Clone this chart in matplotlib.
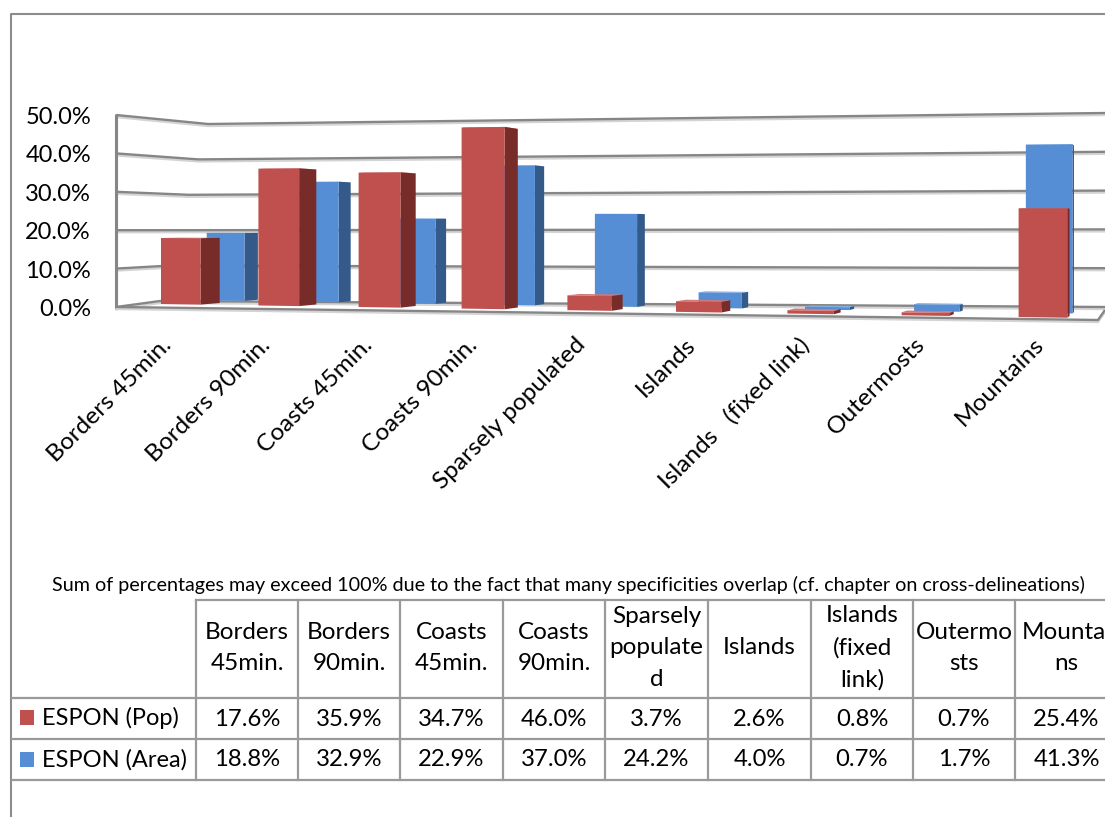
import matplotlib
matplotlib.use("Agg")
import matplotlib.pyplot as plt
from matplotlib.patches import Polygon, Rectangle

# data
categories = ["Borders 45min.", "Borders 90min.", "Coasts 45min.", "Coasts 90min.",
              "Sparsely populated", "Islands", "Islands   (fixed link)", "Outermosts", "Mountains"]
table_headers = ["Borders\n45min.", "Borders\n90min.", "Coasts\n45min.", "Coasts\n90min.",
                 "Sparsely\npopulate\nd", "Islands", "Islands\n(fixed\nlink)", "Outermo\nsts", "Mountai\nns"]
pop_values = [17.6, 35.9, 34.7, 46.0, 3.7, 2.6, 0.8, 0.7, 25.4]
area_values = [18.8, 32.9, 22.9, 37.0, 24.2, 4.0, 0.7, 1.7, 41.3]
y_ticks = [0, 10, 20, 30, 40, 50]
note = ("Sum of percentages may exceed 100% due to the fact that many specificities "
        "overlap (cf. chapter on cross-delineations)")

FONT = "Lato"
GREY = "#868686"
SHADOW = "#d4d4d4"
LINE = "#9a9a9a"
RED = ("#c0504d", "#772c2a", "#d27a77")
BLUE = ("#558ed5", "#345a8a", "#85aee3")

# pseudo 3D projection, everything in image pixels
BAR_W = 0.41
VANISH_X = 1180


def front_x(u):
    return 161 + 96 * u + 1.4 * u * u


def bar_x(u, d):
    x = front_x(u)
    return x + (VANISH_X - x) * 0.0195 * d


def bar_y(x, d, v):
    base = 304 + 0.0152 * (x - 161) - 1.9 * d
    scale = (3.75 + 0.00062 * (x - 161)) * (1 - 0.022 * d)
    return base - v * scale


def draw_bar(ax, i, v, d0, d1, colors, z):
    face, side, top = colors
    xl0, xr0 = bar_x(i, d0), bar_x(i + BAR_W, d0)
    xl1, xr1 = bar_x(i, d1), bar_x(i + BAR_W, d1)
    ax.add_patch(Polygon([(xl0, bar_y(xl0, d0, v)), (xr0, bar_y(xr0, d0, v)),
                          (xr1, bar_y(xr1, d1, v)), (xl1, bar_y(xl1, d1, v))],
                         fc=top, ec="none", zorder=z))
    ax.add_patch(Polygon([(xr0, bar_y(xr0, d0, 0)), (xr1, bar_y(xr1, d1, 0)),
                          (xr1, bar_y(xr1, d1, v)), (xr0, bar_y(xr0, d0, v))],
                         fc=side, ec="none", zorder=z))
    ax.add_patch(Polygon([(xl0, bar_y(xl0, d0, 0)), (xr0, bar_y(xr0, d0, 0)),
                          (xr0, bar_y(xr0, d0, v)), (xl0, bar_y(xl0, d0, v))],
                         fc=face, ec="none", zorder=z))


def grey_line(ax, xs, ys, lw=1.7, z=2):
    ax.plot(xs, [y + 2 for y in ys], color=SHADOW, lw=lw, solid_capstyle="butt", zorder=z)
    ax.plot(xs, ys, color=GREY, lw=lw, solid_capstyle="butt", zorder=z)


fig = plt.figure(figsize=(11.05, 8.17), dpi=100)
ax = fig.add_axes([0, 0, 1, 1])
ax.set_xlim(0, 1105)
ax.set_ylim(817, 0)
ax.axis("off")

# outer frame, runs off the page at right and bottom
ax.plot([11, 11, 1105], [817, 14, 14], color="#8c8c8c", lw=1.5)

# walls and floor
for v in y_ticks:
    xs = [116, 160 + 0.96 * v, 1105]
    ys = [307 - 3.84 * v, 301 - 3.54 * v, 307 - 3.88 * v]
    grey_line(ax, xs, ys)
grey_line(ax, [116, 116], [114, 308], lw=2.2)
grey_line(ax, [116, 1098, 1105], [307, 320, 310])

for label in y_ticks:
    ax.text(91, 309.5 - 3.84 * label, f"{label:.1f}%", ha="right", va="center",
            family=FONT, fontsize=17, color="black")

for i, v in enumerate(area_values):
    draw_bar(ax, i, v, 2.3, 3.0, BLUE, 3)
for i, v in enumerate(pop_values):
    draw_bar(ax, i, v, 0.0, 1.0, RED, 4)

# category labels at 45 degrees
for i, label in enumerate(categories):
    ax.text(front_x(i + 0.2) - 20 + 1.4 * i, 334, label, rotation=45, rotation_mode="anchor",
            ha="right", va="top", family=FONT, fontsize=17.6, color="black")

ax.text(568, 585, note, ha="center", va="center", family=FONT, fontsize=14.2, color="black")

# data table
col_edges = [196, 298, 400, 503, 605, 708, 811, 913, 1015, 1118]
row_edges = [600, 698, 739, 780]
for x in col_edges[:-1]:
    ax.plot([x, x], [row_edges[0], row_edges[-1]], color=LINE, lw=1.6)
ax.plot([196, 1105], [600, 600], color=LINE, lw=1.6)
for y in row_edges[1:]:
    ax.plot([12, 1105], [y, y], color=LINE, lw=1.6)

for i, head in enumerate(table_headers):
    cx = (col_edges[i] + col_edges[i + 1]) / 2
    ax.text(cx, 648, head, ha="center", va="center", family=FONT, fontsize=17.5,
            linespacing=1.6, color="black")
    ax.text(cx, 719, f"{pop_values[i]:.1f}%", ha="center", va="center",
            family=FONT, fontsize=17.2, color="black")
    ax.text(cx, 760, f"{area_values[i]:.1f}%", ha="center", va="center",
            family=FONT, fontsize=17.2, color="black")

ax.add_patch(Rectangle((20, 710), 14, 15, fc=RED[0], ec="none"))
ax.add_patch(Rectangle((20, 752), 14, 15, fc=BLUE[0], ec="none"))
ax.text(42, 718, "ESPON (Pop)", ha="left", va="center", family=FONT, fontsize=17, color="black")
ax.text(42, 760, "ESPON (Area)", ha="left", va="center", family=FONT, fontsize=17, color="black")

fig.savefig("out.png", dpi=100)
